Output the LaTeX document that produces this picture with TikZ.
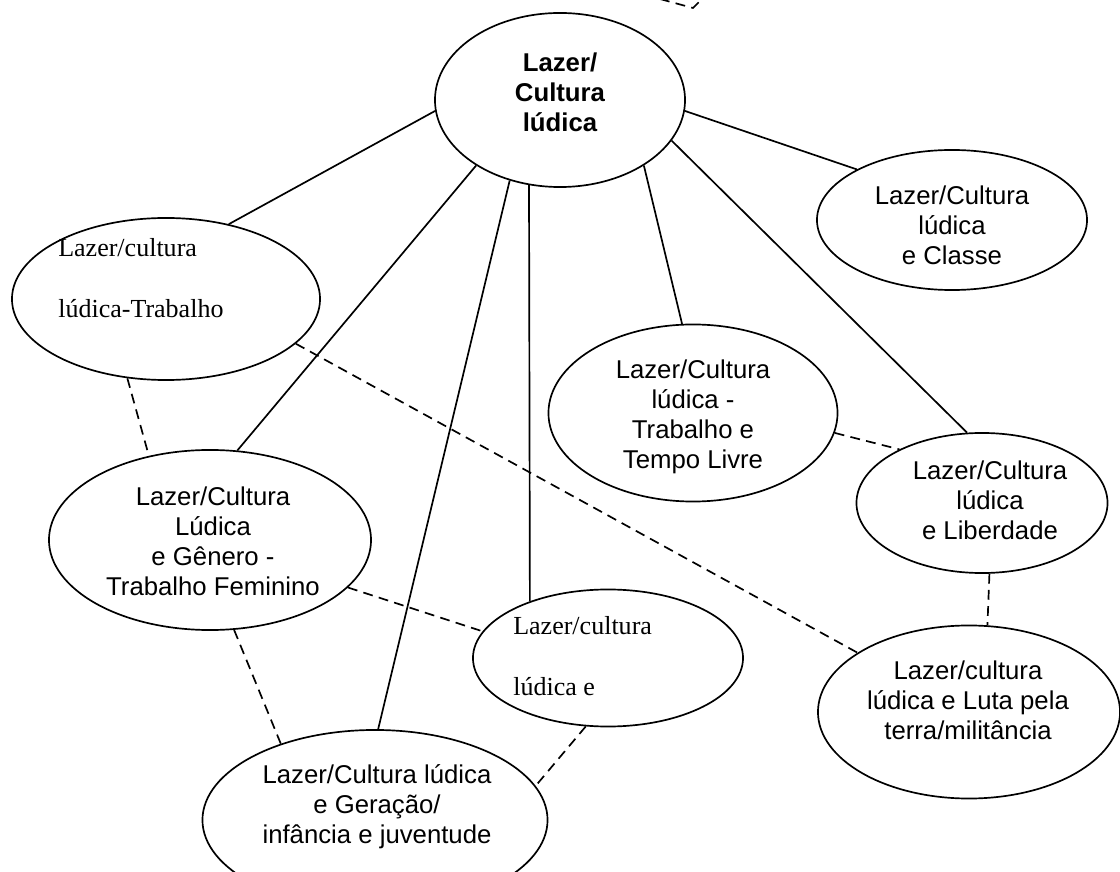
\documentclass[tikz,border=0pt]{standalone}
\usepackage{fontspec}
\setmainfont{Liberation Sans}
\newfontfamily\timesfont{Liberation Serif}
\usetikzlibrary{shapes.geometric}
\tikzstyle{bubble} = [draw, ellipse, line width=1.2pt, inner sep=0pt]
\tikzstyle{txt} = [align=center, inner sep=0pt, font=\fontsize{18.3}{21.3}\selectfont]
\tikzstyle{rtxt} = [align=left, inner sep=0pt, font=\timesfont\fontsize{18.5}{43.2}\selectfont]
\tikzstyle{link} = [line width=1.2pt]
\tikzstyle{dlink} = [line width=1.2pt, dash pattern=on 7pt off 4.5pt]

\begin{document}
\begin{tikzpicture}[x=0.025cm, y=-0.025cm]
\useasboundingbox (0,0) rectangle (1120,872);

% Ellipses
\node[bubble, minimum width=6.25cm, minimum height=4.35cm] (ctr) at (560,100) {};
\node[bubble, minimum width=6.75cm, minimum height=3.5cm] (cls) at (952,220) {};
\node[bubble, minimum width=7.7cm, minimum height=4.05cm] (trab) at (166,299) {};
\node[bubble, minimum width=7.225cm, minimum height=4.425cm] (tempo) at (693,413) {};
\node[bubble, minimum width=6.275cm, minimum height=3.5cm] (lib) at (982,503) {};
\node[bubble, minimum width=7.55cm, minimum height=4.325cm] (luta) at (969,712) {};
\node[bubble, minimum width=8.05cm, minimum height=4.5cm] (gen) at (210,540) {};
\node[bubble, minimum width=6.75cm, minimum height=3.425cm] (lude) at (608,658) {};
\node[bubble, minimum width=8.625cm, minimum height=4.5cm] (ger) at (375,820) {};

% Texts
\node[txt, font=\bfseries\fontsize{18.3}{21.3}\selectfont] (ctr-t) at (560,92) {Lazer/\\Cultura\\lúdica};
\node[txt] (cls-t) at (952,225) {Lazer/Cultura\\lúdica\\e Classe};
\node[rtxt, anchor=north west] (trab-t) at (58,238) {Lazer/cultura\\lúdica-Trabalho};
\node[txt] (tempo-t) at (693,417) {Lazer/Cultura\\lúdica -\\Trabalho e\\Tempo Livre};
\node[txt] (lib-t) at (990,500) {Lazer/Cultura\\lúdica\\e Liberdade};
\node[txt] (luta-t) at (968,700) {Lazer/cultura\\lúdica e Luta pela\\terra/militância};
\node[txt] (gen-t) at (213,541) {Lazer/Cultura\\Lúdica\\e Gênero -\\Trabalho Feminino};
\node[rtxt, anchor=north west] (lude-t) at (513,616) {Lazer/cultura\\lúdica e};
\node[txt] (ger-t) at (377,807) {Lazer/Cultura lúdica\\e Geração/\\infância e juventude};

% Solid links
\draw[link] (ctr.185) -- (trab.50);
\draw[link] (ctr.218) -- (gen.73);
\draw[link] (ctr.238) -- (ger.88);
\draw[link] (ctr.250) -- (lude.144);
\draw[link] (ctr.322) -- (tempo.97);
\draw[link] (ctr.340) -- (lib.102);
\draw[link] (ctr.355) -- (cls.152);

% Dashed links
\draw[dlink] (trab.244) -- (gen.126);
\draw[dlink] (trab.341) -- (luta.152);
\draw[dlink] (tempo.352) -- (lib.147);
\draw[dlink] (lib.276) -- (luta.78);
\draw[dlink] (gen.341) -- (lude.168);
\draw[dlink] (gen.285) -- (ger.141);
\draw[dlink] (lude.252) -- (ger.12);

% Fragment at the top
\draw[dlink] (660,-1) -- (693,8) -- (703,-2);
\end{tikzpicture}
\end{document}
